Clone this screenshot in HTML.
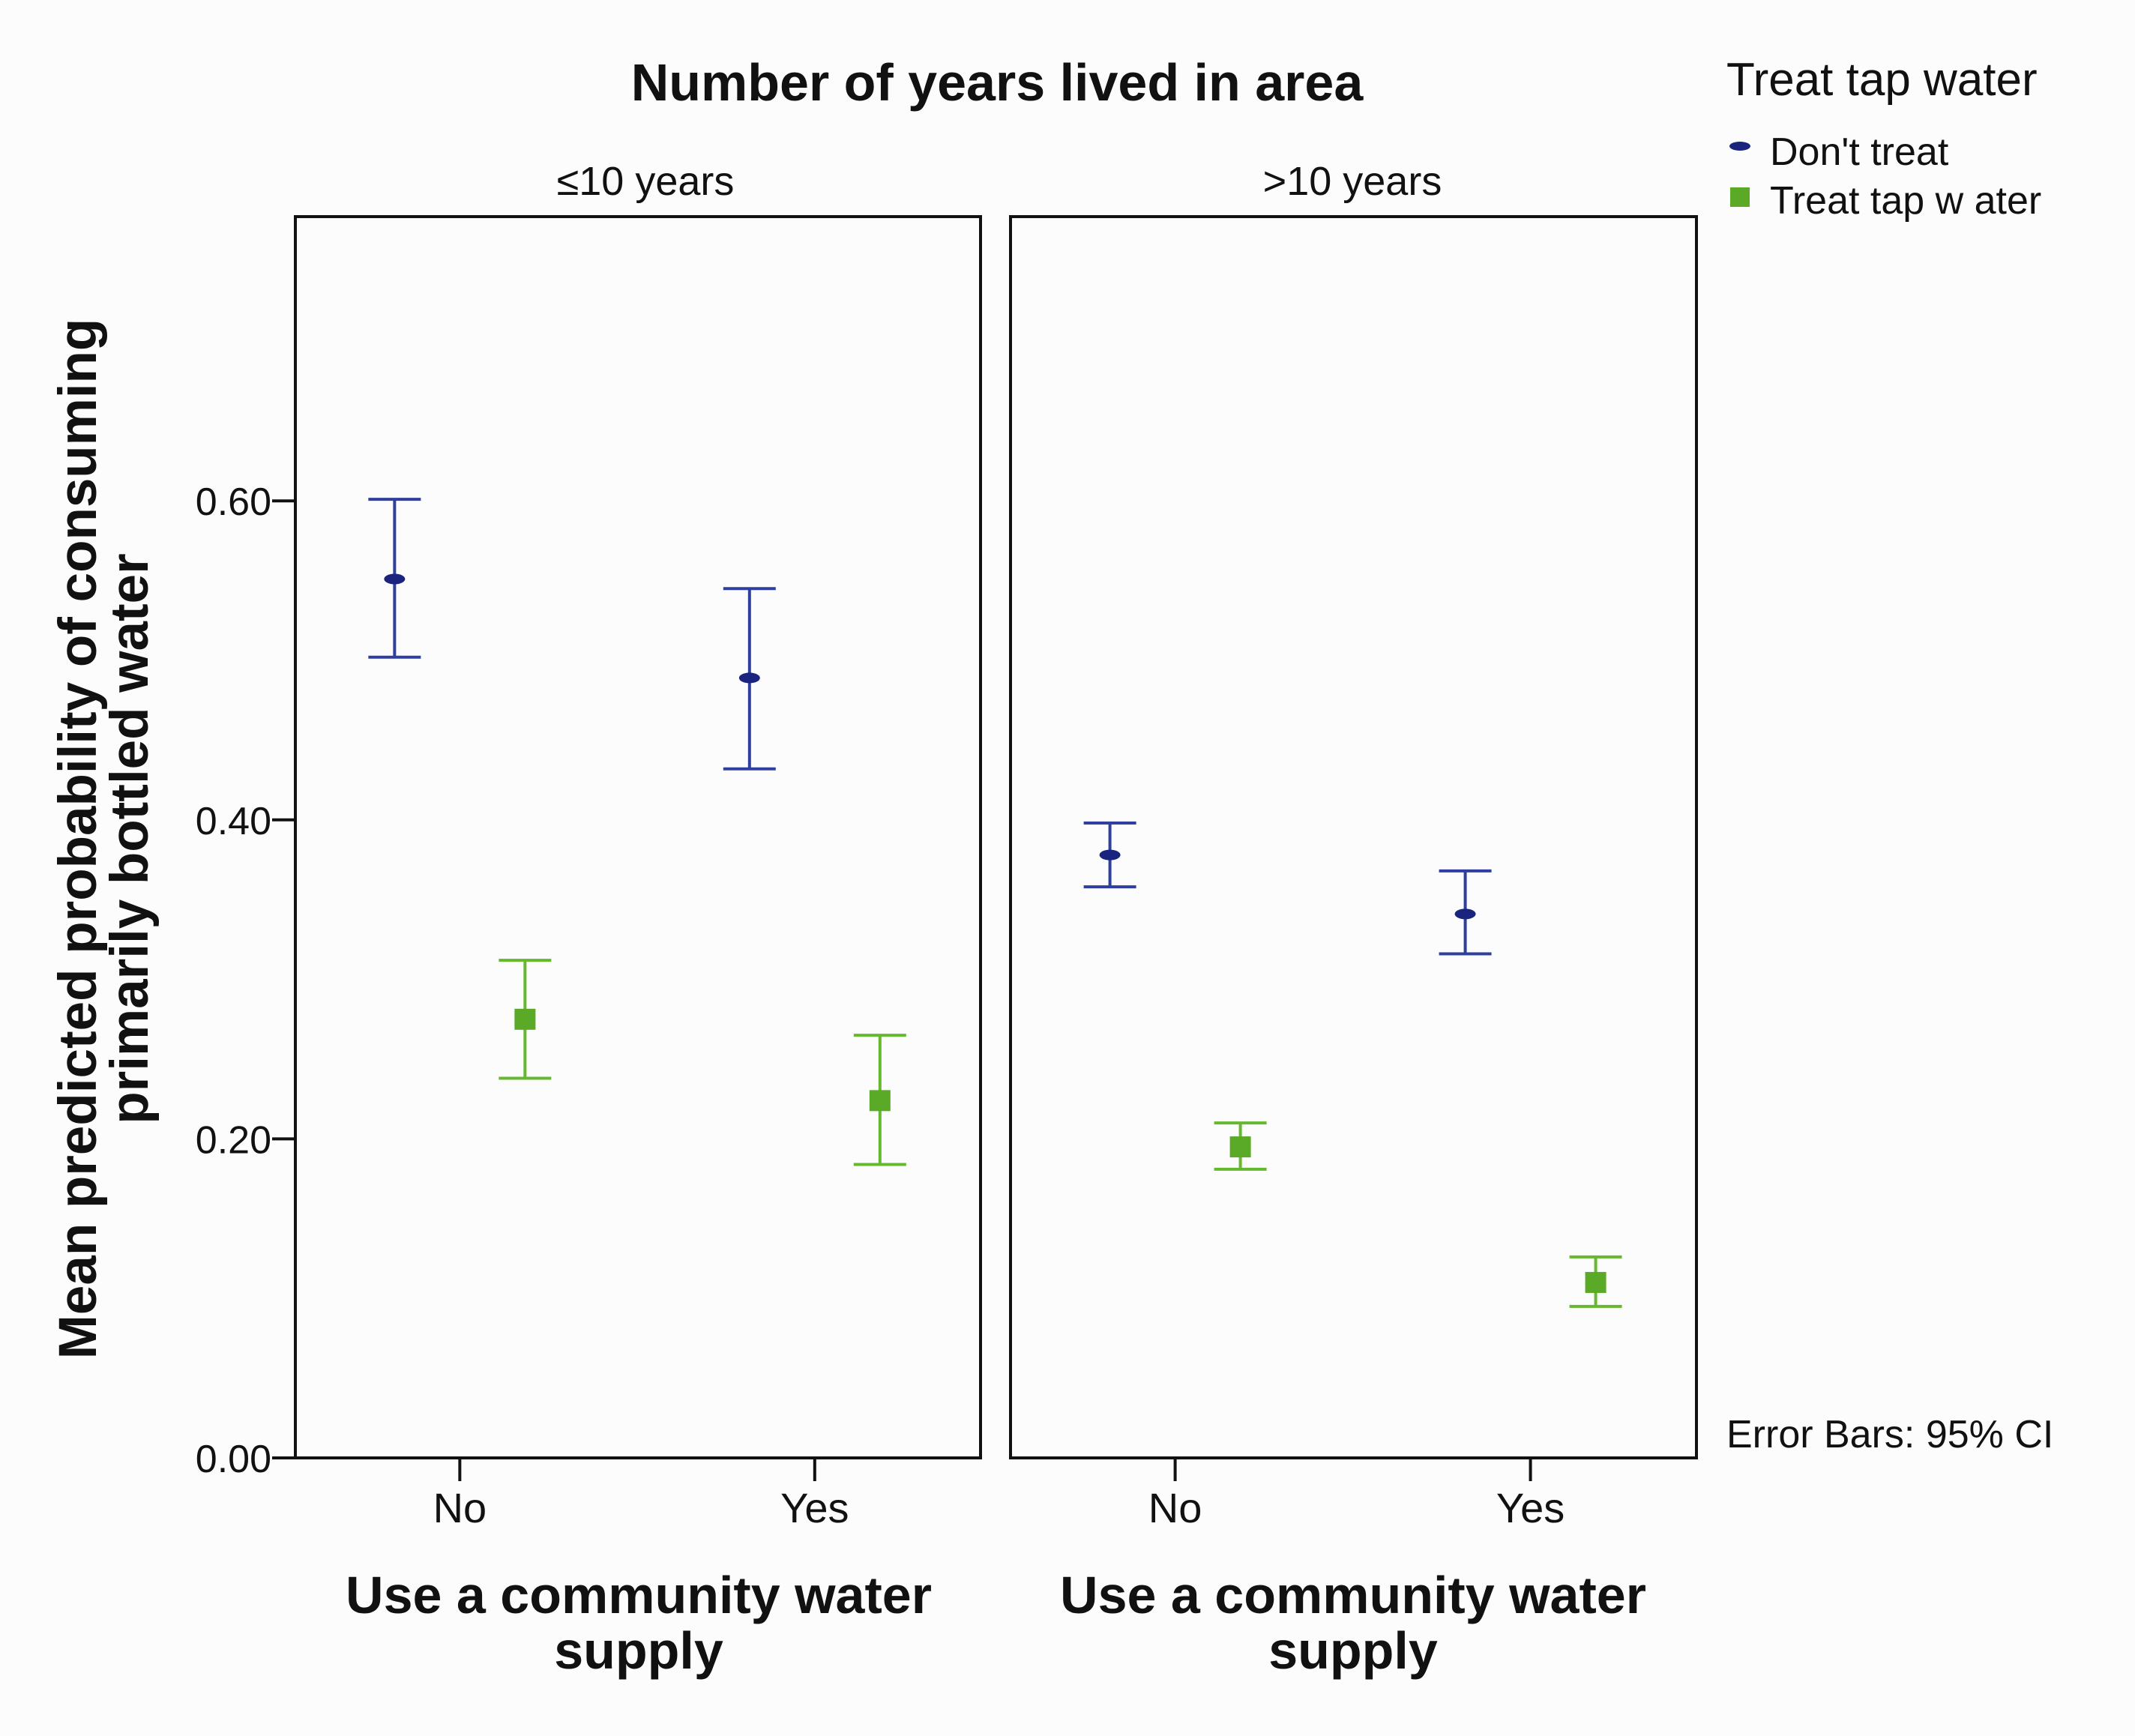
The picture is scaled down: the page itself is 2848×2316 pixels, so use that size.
<!DOCTYPE html>
<html><head><meta charset="utf-8"><style>
html,body{margin:0;padding:0;background:#fcfcfc;}
svg{display:block;font-family:"Liberation Sans",Arial,sans-serif;}
</style></head><body>
<svg id="chart" width="2848" height="2316" viewBox="0 0 2848 2316" xmlns="http://www.w3.org/2000/svg">
<rect x="0" y="0" width="2848" height="2316" fill="#fcfcfc"/>
<text x="1330" y="134" text-anchor="middle" font-size="70" font-weight="bold" fill="#111">Number of years lived in area</text>
<text x="861" y="260" text-anchor="middle" font-size="54" fill="#111">≤10 years</text>
<text x="1804" y="260" text-anchor="middle" font-size="54" fill="#111">&gt;10 years</text>
<rect x="394" y="289" width="914" height="1656" fill="none" stroke="#111" stroke-width="4"/>
<rect x="1348" y="289" width="915" height="1656" fill="none" stroke="#111" stroke-width="4"/>
<g id="yaxis"></g>
<g id="xaxis"></g>
<g id="marks"></g>
<text transform="translate(128,1119) rotate(-90)" text-anchor="middle" font-size="71" font-weight="bold" fill="#111"><tspan x="0" y="0">Mean predicted probability of consuming</tspan><tspan x="0" y="69">primarily bottled water</tspan></text>
<text x="852" y="2152" text-anchor="middle" font-size="70" font-weight="bold" fill="#111"><tspan x="852" y="2152">Use a community water</tspan><tspan x="852" y="2226">supply</tspan></text>
<text x="1805" y="2152" text-anchor="middle" font-size="70" font-weight="bold" fill="#111"><tspan x="1805" y="2152">Use a community water</tspan><tspan x="1805" y="2226">supply</tspan></text>
<g>
<text x="2303" y="127" font-size="62" fill="#111">Treat tap water</text>
<ellipse cx="2321" cy="195" rx="14" ry="6" fill="#1a237e"/>
<text x="2361" y="220" font-size="52" fill="#111">Don't treat</text>
<rect x="2308" y="250" width="26" height="26" fill="#5aaa28"/>
<text x="2361" y="285" font-size="52" fill="#111">Treat tap w ater</text>
</g>
<text x="2303" y="1931" font-size="52" fill="#111">Error Bars: 95% CI</text>
</svg>
<script>
const yTicks=[0,0.2,0.4,0.6];
const yTickLabels=["0.00","0.20","0.40","0.60"];
const categories=["No","Yes"];
const panels=["≤10 years",">10 years"];
const dontTreatMean=[[0.551,0.489],[0.378,0.341]];
const dontTreatLow=[[0.502,0.432],[0.358,0.316]];
const dontTreatHigh=[[0.601,0.545],[0.398,0.368]];
const treatMean=[[0.275,0.224],[0.195,0.110]];
const treatLow=[[0.238,0.184],[0.181,0.095]];
const treatHigh=[[0.312,0.265],[0.210,0.126]];

const NS="http://www.w3.org/2000/svg";
const panelLeft=[394,1348], panelW=[914,915];
const y0=1945, yPerUnit=2128;
function yScale(v){return y0-v*yPerUnit;}
function xScale(p,c){return panelLeft[p]+panelW[p]*(c===0?0.240:0.758);}
function mk(tag,attrs,parent){const e=document.createElementNS(NS,tag);for(const k in attrs)e.setAttribute(k,attrs[k]);parent.appendChild(e);return e;}
const yaxis=document.getElementById('yaxis');
yTicks.forEach((t,i)=>{
  const y=yScale(t);
  const l=mk('line',{x1:363,x2:394,y1:y,y2:y,stroke:'#111','stroke-width':4},yaxis);
  
  
  const tx=mk('text',{x:362,y:y+19,'text-anchor':'end','font-size':52,fill:'#111'},yaxis);
  tx.textContent=yTickLabels[i];
  
  
});
const xaxis=document.getElementById('xaxis');
panels.forEach((p,pi)=>{categories.forEach((c,ci)=>{
  const x=xScale(pi,ci);
  const l=mk('line',{x1:x,x2:x,y1:1945,y2:1976,stroke:'#111','stroke-width':4},xaxis);
  
  
  const tx=mk('text',{x:x,y:2031,'text-anchor':'middle','font-size':56,fill:'#111'},xaxis);
  tx.textContent=c;
  
  
});});
const marks=document.getElementById('marks');
function errbar(x,lo,hi,color,name){
  const g=mk('g',{},marks);
  
  
  const yl=yScale(lo),yh=yScale(hi);
  mk('line',{x1:x,x2:x,y1:yl,y2:yh,stroke:color,'stroke-width':4},g);
  mk('line',{x1:x-35,x2:x+35,y1:yl,y2:yl,stroke:color,'stroke-width':4},g);
  mk('line',{x1:x-35,x2:x+35,y1:yh,y2:yh,stroke:color,'stroke-width':4},g);
  return g;
}
for(let p=0;p<2;p++){for(let c=0;c<2;c++){
  const xb=xScale(p,c)-87, xg=xScale(p,c)+87;
  errbar(xb,dontTreatLow[p][c],dontTreatHigh[p][c],'#2e3f9e','error-bar-dont-treat');
  const e=mk('ellipse',{cx:xb,cy:yScale(dontTreatMean[p][c]),rx:14,ry:7,fill:'#1a237e'},marks);
  
  
  errbar(xg,treatLow[p][c],treatHigh[p][c],'#66b82e','error-bar-treat');
  const r=mk('rect',{x:xg-14,y:yScale(treatMean[p][c])-14,width:28,height:28,fill:'#5aaa28'},marks);
  
  
}}
</script>
</body></html>
